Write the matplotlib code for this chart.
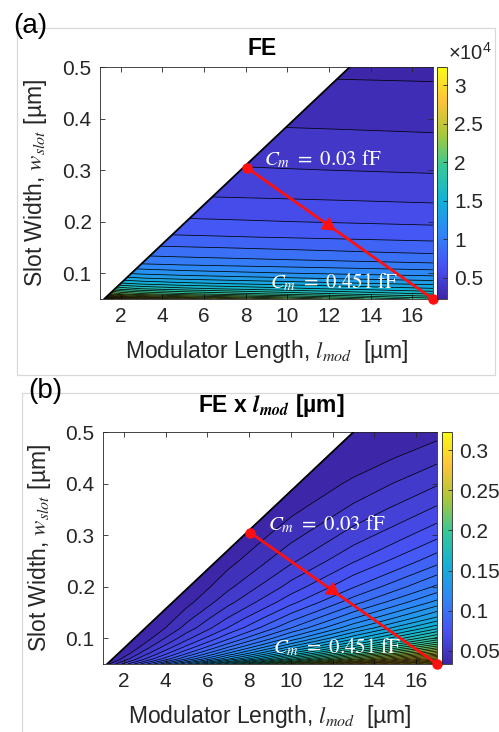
import numpy as np
import matplotlib
matplotlib.use('Agg')
import matplotlib.pyplot as plt
from matplotlib.colors import LinearSegmentedColormap, Normalize
from matplotlib.patches import Polygon, Rectangle
from matplotlib.cm import ScalarMappable

plt.rcParams['font.family'] = ['Liberation Sans', 'DejaVu Sans']
plt.rcParams['mathtext.fontset'] = 'stix'

# ---------------- data ----------------
l_mod = [1, 2, 3, 5, 7, 10, 13, 17]                     # modulator length [um]
w_slot = [0.05, 0.055, 0.06, 0.07, 0.08, 0.09, 0.10, 0.12, 0.14,
          0.17, 0.20, 0.25, 0.30, 0.35, 0.40, 0.45, 0.50]  # slot width [um]
# field enhancement FE, rows = w_slot, columns = l_mod
fe = [
    [33200, 28950, 27240, 25390, 24100, 22400, 20830, 18980],
    [27630, 24620, 23420, 22110, 21210, 20010, 18900, 17600],
    [23780, 21570, 20680, 19720, 19060, 18170, 17360, 16400],
    [19560, 18080, 17480, 16830, 16390, 15790, 15250, 14600],
    [16760, 15700, 15270, 14800, 14480, 14060, 13660, 13200],
    [14760, 13930, 13600, 13240, 12990, 12660, 12360, 12000],
    [13200, 12540, 12280, 11990, 11790, 11530, 11290, 11000],
    [10930, 10500, 10330, 10140, 10010, 9840, 9690, 9500],
    [9240, 9190, 9140, 9030, 8930, 8770, 8610, 8400],
    [7780, 7740, 7700, 7630, 7560, 7450, 7340, 7200],
    [6770, 6740, 6710, 6650, 6600, 6510, 6420, 6300],
    [5590, 5570, 5540, 5490, 5440, 5370, 5300, 5200],
    [4730, 4710, 4690, 4650, 4610, 4540, 4480, 4400],
    [4030, 4010, 4000, 3960, 3930, 3870, 3820, 3750],
    [3440, 3425, 3410, 3380, 3350, 3305, 3260, 3200],
    [2860, 2850, 2840, 2820, 2800, 2770, 2740, 2700],
    [2370, 2365, 2360, 2340, 2325, 2300, 2275, 2240],
]
# valid-region boundary (white area above it)
bound_l = [1.2, 13.0]
bound_w = [0.05, 0.5]
# red C_m trace
trace_l = [8.05, 17.0]
trace_w = [0.305, 0.05]
arrow_l = 11.95
cm_start = '0.03'
cm_end = '0.451'

fe_clim = [2240, 32370]
fel_clim = [0.0335, 0.3227]
fe_cticks = [5000, 10000, 15000, 20000, 25000, 30000]
fe_cticklabels = ['0.5', '1', '1.5', '2', '2.5', '3']
fel_cticks = [0.05, 0.1, 0.15, 0.2, 0.25, 0.3]
fel_cticklabels = ['0.05', '0.1', '0.15', '0.2', '0.25', '0.3']
x_ticks = [2, 4, 6, 8, 10, 12, 14, 16]
y_ticks = [0.1, 0.2, 0.3, 0.4, 0.5]
x_lim = [1, 17]
y_lim = [0.05, 0.5]

# ---------------- colormap (parula-like) ----------------
parula_pts = [
    (0.2422, 0.1504, 0.6603), (0.2810, 0.3228, 0.9579), (0.1786, 0.5289, 0.9682),
    (0.0689, 0.6948, 0.8394), (0.2161, 0.7843, 0.5923), (0.6720, 0.7793, 0.2227),
    (0.9970, 0.7659, 0.2199), (0.9769, 0.9839, 0.0805)]
parula = LinearSegmentedColormap.from_list('parula', parula_pts, N=256)

L, W = np.meshgrid(np.array(l_mod, float), np.array(w_slot, float))
FE = np.array(fe, float)
FEL = FE * L * 1e-6   # FE x l_mod (l in m)

fig = plt.figure(figsize=(4.99, 7.32), dpi=100)

TICK_FS = 15
LAB_FS = 16.5
txtcol = '#262626'
RED = '#ff1010'


def panel(ax_rect, cax_rect, Z, clim, levels, cticks, cticklabels, title, title_xy, ylab_x, lab_y):
    ax = fig.add_axes(ax_rect)
    norm = Normalize(vmin=clim[0], vmax=clim[1])
    cs = ax.contourf(L, W, Z, levels=levels, cmap=parula, norm=norm, extend='both')
    cl = ax.contour(L, W, Z, levels=levels, colors='k', linewidths=0.55)
    clip = Polygon([(bound_l[0], bound_w[0]), (x_lim[1], y_lim[0]),
                    (x_lim[1], y_lim[1]), (bound_l[1], bound_w[1])],
                   closed=True, transform=ax.transData)
    cs.set_clip_path(clip)
    cl.set_clip_path(clip)
    ax.plot(bound_l, bound_w, color='k', lw=1.3, zorder=3)
    ax.set_xlim(x_lim)
    ax.set_ylim(y_lim)
    ax.set_xticks(x_ticks)
    ax.set_yticks(y_ticks)
    ax.set_xticklabels([str(v) for v in x_ticks])
    ax.set_yticklabels(['%.1f' % v for v in y_ticks])
    ax.tick_params(direction='in', top=True, right=True, length=3.5, width=0.6,
                   labelsize=TICK_FS, colors=txtcol, pad=6)
    for s in ax.spines.values():
        s.set_color('#262626')
        s.set_linewidth(0.6)

    # red trace
    ax.plot(trace_l, trace_w, color=RED, lw=2.0, zorder=5, clip_on=False)
    ax.plot(trace_l, trace_w, 'o', color=RED, ms=6.5, zorder=6, clip_on=False)
    arrow_w = np.interp(arrow_l, trace_l, trace_w)
    p0 = ax.transData.transform((trace_l[0], trace_w[0]))
    p1 = ax.transData.transform((trace_l[1], trace_w[1]))
    ang = np.degrees(np.arctan2(p1[1] - p0[1], p1[0] - p0[0]))
    ax.plot([arrow_l], [arrow_w], marker=(3, 0, ang - 90), color=RED, ms=11,
            zorder=6, linestyle='none')
    ax.text(8.9, 0.322, r'$C_m\ =\ %s\ \mathrm{fF}$' % cm_start, color='white',
            fontsize=15, ha='left', va='center', zorder=7)
    ax.text(9.15, 0.083, r'$C_m\ =\ %s\ \mathrm{fF}$' % cm_end, color='white',
            fontsize=15, ha='left', va='center', zorder=7)

    ax.text(0.5, lab_y, r'Modulator Length, $l_{mod}$  [µm]', transform=ax.transAxes,
            ha='center', va='center', fontsize=LAB_FS, color=txtcol)
    ax.text(ylab_x, 0.5, r'Slot Width, $w_{slot}$ [µm]', transform=ax.transAxes,
            ha='center', va='center', rotation=90, fontsize=LAB_FS, color=txtcol)
    ax.text(title_xy[0], title_xy[1], title, transform=ax.transAxes, ha='center',
            va='center', fontsize=16.5, fontweight='bold', color='k')

    cax = fig.add_axes(cax_rect)
    cb = fig.colorbar(ScalarMappable(norm=norm, cmap=parula), cax=cax)
    cb.set_ticks(cticks)
    cb.set_ticklabels(cticklabels)
    cax.tick_params(direction='in', length=3, width=0.6, labelsize=TICK_FS,
                    colors=txtcol, pad=5)
    cb.outline.set_edgecolor('#262626')
    cb.outline.set_linewidth(0.6)
    return ax, cax


fe_levels = np.arange(2500, fe_clim[1], 1000)
fel_levels = np.linspace(fel_clim[0], fel_clim[1], 41)[1:-1]

axa, caxa = panel([0.2004, 0.5915, 0.6673, 0.3169], [0.8758, 0.5915, 0.02, 0.3169],
                  FE, fe_clim, fe_levels, fe_cticks, fe_cticklabels,
                  'FE', (0.487, 1.082), -0.195, -0.228)
axb, caxb = panel([0.2064, 0.0929, 0.6693, 0.3169], [0.8858, 0.0929, 0.02, 0.3169],
                  FEL, fel_clim, fel_levels, fel_cticks, fel_cticklabels,
                  r'FE x $\mathbfit{l}_{\mathbfit{mod}}$ [µm]', (0.503, 1.116), -0.189, -0.228)

fig.text(0.942, 0.9276, r'$\mathregular{\times10^4}$', ha='center', va='center',
         fontsize=14.5, color=txtcol)
fig.text(0.060, 0.964, '(a)', ha='center', va='center', fontsize=20, color='k')
fig.text(0.090, 0.466, '(b)', ha='center', va='center', fontsize=20, color='k')

fig.patches.append(Rectangle((0.034, 0.4877), 0.958, 0.474, transform=fig.transFigure,
                             fill=False, edgecolor='#d8d8d8', lw=0.9, zorder=0))
fig.patches.append(Rectangle((0.044, -0.01), 0.97, 0.473, transform=fig.transFigure,
                             fill=False, edgecolor='#d8d8d8', lw=0.9, zorder=0))

fig.savefig('out.png', dpi=100)
